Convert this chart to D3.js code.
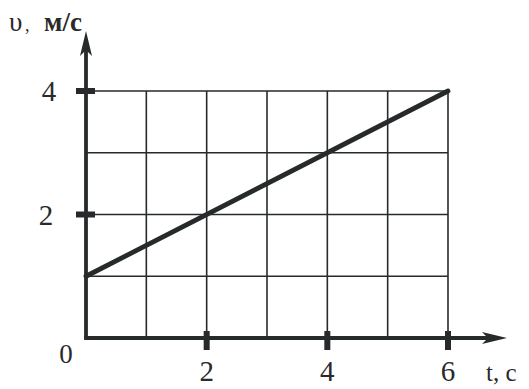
<!DOCTYPE html>
<html>
<head>
<meta charset="utf-8">
<script src="https://cdn.jsdelivr.net/npm/d3@7"></script>
<style>
  html, body { margin: 0; padding: 0; background: #fff; }
  svg { display: block; }
  text { font-family: "Liberation Serif", "DejaVu Serif", serif; fill: #2a2a2a; }
</style>
</head>
<body>
<svg id="chart" width="529" height="389"></svg>
<script>
// Velocity of a uniformly accelerated body: v(t)
const tPoints = [0, 6];
const vPoints = [1, 4];
const tGrid = [1, 2, 3, 4, 5, 6];
const vGrid = [1, 2, 3, 4];
const tTicks = [2, 4, 6];
const vTicks = [2, 4];
const tLabel = "t, c";
const vSymbol = "υ";
const vUnit = "м/с";

const svg = d3.select("#chart");
const ink = "#262a2a";

const x = d3.scaleLinear().domain([0, 6]).range([86, 448]);
const y = d3.scaleLinear().domain([0, 4]).range([338, 91]);

// grid
const grid = svg.append("g").attr("stroke", ink).attr("stroke-width", 1.6);
grid.selectAll("line.v").data(tGrid).join("line")
  .attr("x1", d => x(d)).attr("x2", d => x(d))
  .attr("y1", y(0)).attr("y2", y(4));
grid.selectAll("line.h").data(vGrid).join("line")
  .attr("x1", x(0)).attr("x2", x(6))
  .attr("y1", d => y(d)).attr("y2", d => y(d));

// axes
const axes = svg.append("g").attr("stroke", ink).attr("stroke-width", 3.8);
axes.append("line").attr("x1", x(0) - 1.9).attr("x2", 497).attr("y1", y(0)).attr("y2", y(0));
axes.append("line").attr("x1", x(0)).attr("x2", x(0)).attr("y1", y(0)).attr("y2", 40);

// arrow heads
svg.append("path")
  .attr("d", `M${x(0)},31 L${x(0) - 6},56 L${x(0)},50 L${x(0) + 6},56 Z`)
  .attr("fill", ink);
svg.append("path")
  .attr("d", `M507,${y(0)} L482,${y(0) - 6} L488,${y(0)} L482,${y(0) + 6} Z`)
  .attr("fill", ink);

// thick tick marks
const ticks = svg.append("g").attr("fill", ink);
ticks.selectAll("rect.t").data(tTicks).join("rect")
  .attr("x", d => x(d) - 3).attr("y", y(0) - 7)
  .attr("width", 6).attr("height", 19);
ticks.selectAll("rect.v").data(vTicks).join("rect")
  .attr("x", x(0) - 10).attr("y", d => y(d) - 3)
  .attr("width", 19).attr("height", 6);

// v(t) line
const line = d3.line().x(d => x(d[0])).y(d => y(d[1]));
svg.append("path")
  .datum(d3.zip(tPoints, vPoints))
  .attr("d", line)
  .attr("fill", "none").attr("stroke", ink).attr("stroke-width", 4.8)
  .attr("stroke-linecap", "round");

// tick labels
svg.selectAll("text.tl").data(tTicks).join("text")
  .attr("x", d => x(d)).attr("y", 381)
  .attr("text-anchor", "middle").attr("font-size", 29)
  .text(d => d);
svg.selectAll("text.vl").data(vTicks).join("text")
  .attr("x", d => d === 4 ? 49 : 46).attr("y", d => y(d) + 10)
  .attr("text-anchor", "middle").attr("font-size", 29)
  .text(d => d);
svg.append("text").attr("x", 66).attr("y", 363)
  .attr("text-anchor", "middle").attr("font-size", 27).text("0");

// axis titles
svg.append("text").attr("x", 486).attr("y", 381)
  .attr("font-size", 25).text(tLabel);
const vTitle = svg.append("text").attr("y", 31).attr("font-size", 27);
vTitle.append("tspan").attr("x", 9).text(vSymbol);
vTitle.append("tspan").attr("x", 25).attr("font-size", 18).text(",");
vTitle.append("tspan").attr("x", 44).attr("font-weight", "bold").text(vUnit);
</script>
</body>
</html>
